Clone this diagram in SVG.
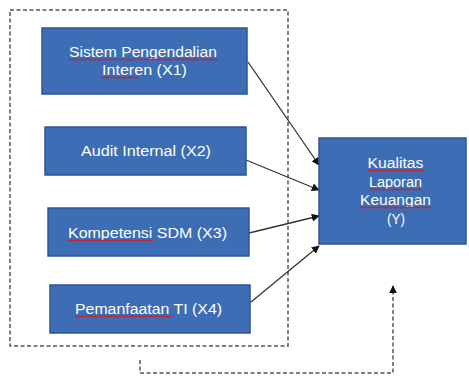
<svg xmlns="http://www.w3.org/2000/svg" width="469" height="378" viewBox="0 0 469 378">
<defs>
<style>
.box{fill:#3d6db5;stroke:#2c5592;stroke-width:1.5}
.t{font-family:"Liberation Sans",Arial,sans-serif;font-size:14px;fill:#ffffff;text-anchor:middle}
.u{stroke:#c0283a;stroke-width:1.3;fill:none}
.c{stroke:#333;stroke-width:1.3;fill:none}
.d{stroke:#555;stroke-width:1.5;fill:none;stroke-dasharray:4 2.5}
</style>
<marker id="ah" viewBox="0 0 10 10" refX="9" refY="5" markerWidth="8" markerHeight="8" markerUnits="userSpaceOnUse" orient="auto"><path d="M0,0 L10,5 L0,10 z" fill="#111"/></marker>
<marker id="ah2" viewBox="0 0 10 10" refX="9" refY="5" markerWidth="8" markerHeight="8" markerUnits="userSpaceOnUse" orient="auto"><path d="M0,0 L10,5 L0,10 z" fill="#111"/></marker>
</defs>
<rect x="0" y="0" width="469" height="378" fill="#ffffff"/>
<g id="boundary"><rect class="d" x="10" y="10" width="278" height="336"/></g>
<g id="connectors">
<line class="c" x1="248" y1="62" x2="319" y2="165" marker-end="url(#ah)"/>
<line class="c" x1="246" y1="160" x2="319" y2="190" marker-end="url(#ah)"/>
<line class="c" x1="249" y1="233" x2="319" y2="216" marker-end="url(#ah)"/>
<line class="c" x1="251" y1="302" x2="319" y2="246" marker-end="url(#ah)"/>
<path class="d" d="M140,360 V373 H393 V286" marker-end="url(#ah2)"/>
</g>
<g id="x1">
<rect class="box" x="42" y="28" width="205" height="66"/>
<text class="t" x="143" y="57" textLength="148" lengthAdjust="spacingAndGlyphs">Sistem Pengendalian</text>
<text class="t" x="144.5" y="75" textLength="85" lengthAdjust="spacingAndGlyphs">Interen (X1)</text>
<line class="u" x1="69" y1="59.5" x2="217" y2="59.5"/>
<line class="u" x1="102" y1="77.5" x2="139" y2="77.5"/>
</g>
<g id="x2">
<rect class="box" x="45" y="127" width="201" height="48"/>
<text class="t" x="146" y="156" textLength="130" lengthAdjust="spacingAndGlyphs">Audit Internal (X2)</text>
</g>
<g id="x3">
<rect class="box" x="48" y="208" width="201" height="48"/>
<text class="t" x="147.5" y="238" textLength="159" lengthAdjust="spacingAndGlyphs">Kompetensi SDM (X3)</text>
<line class="u" x1="68" y1="240.5" x2="153" y2="240.5"/>
</g>
<g id="x4">
<rect class="box" x="50" y="285" width="200" height="48"/>
<text class="t" x="148.5" y="314" textLength="147" lengthAdjust="spacingAndGlyphs">Pemanfaatan TI (X4)</text>
<line class="u" x1="75" y1="316.5" x2="171" y2="316.5"/>
</g>
<g id="y">
<rect class="box" x="319" y="138" width="147" height="106"/>
<text class="t" x="395.5" y="168" textLength="56" lengthAdjust="spacingAndGlyphs">Kualitas</text>
<text class="t" x="395.5" y="187" textLength="53" lengthAdjust="spacingAndGlyphs">Laporan</text>
<text class="t" x="395.5" y="205" textLength="71" lengthAdjust="spacingAndGlyphs">Keuangan</text>
<text class="t" x="396" y="224" textLength="18" lengthAdjust="spacingAndGlyphs">(Y)</text>
<line class="u" x1="368" y1="170.5" x2="424" y2="170.5"/>
<line class="u" x1="369" y1="189.5" x2="422" y2="189.5"/>
<line class="u" x1="360" y1="207.5" x2="431" y2="207.5"/>
</g>
</svg>
